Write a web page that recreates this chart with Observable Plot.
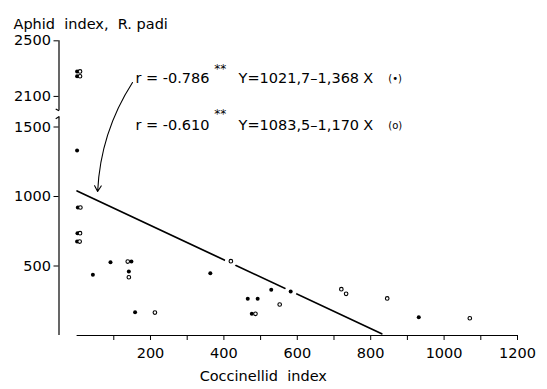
<!DOCTYPE html>
<html>
<head>
<meta charset="utf-8">
<script src="https://cdn.jsdelivr.net/npm/d3@7"></script>
<script src="https://cdn.jsdelivr.net/npm/@observablehq/plot@0.6"></script>
<style>
  html, body { margin: 0; padding: 0; background: #fff; }
  svg text { white-space: pre; }
</style>
</head>
<body>
<div id="chart"></div>
<script>
// ---- data ----
const pointX = [0, 8, 0, 8, 0, 2, 9, 1, 8, 0, 7, 43, 91, 138, 148, 141, 141, 158, 212, 363, 419, 465, 492, 476, 486, 529, 552, 582, 720, 733, 845, 931, 1070];
const pointY = [2280, 2280, 2245, 2245, 1331, 921, 921, 736, 736, 676, 676, 437, 527, 532, 532, 460, 419, 167, 165, 448, 535, 264, 264, 156, 156, 329, 223, 317, 333, 300, 267, 132, 124];
const pointKind = ["f","o","f","o","f","f","o","f","o","f","o","f","f","o","f","f","o","f","o","f","o","f","f","f","o","f","o","f","o","o","o","f","o"];

const lineX = [0, 830];
const lineY = [1040, 12];

const xTicks = [100, 200, 300, 400, 500, 600, 700, 800, 900, 1000, 1100, 1200];
const yTicks = [500, 1000, 1500, 2100, 2500];

const rTexts = ["r = -0.786", "r = -0.610"];
const eqTexts = ["Y=1021,7\u20131,368", "Y=1083,5\u20131,170"];
const symTexts = ["(\u2022)", "(o)"];
const titleText = "Aphid  index,  R. padi";
const xLabelText = "Coccinellid  index";

// ---- broken y axis: values above the break are shifted down ----
const BREAK = 1950, SHIFT = 380;
const brk = v => v >= BREAK ? v - SHIFT : v;
const unbrk = v => v >= BREAK - SHIFT ? v + SHIFT : v;

const points = pointX.map((x, i) => ({x, y: brk(pointY[i]), kind: pointKind[i]}));
const regLine = lineX.map((x, i) => ({x, y: brk(lineY[i])}));

const axisX0 = -49.3; // position of the vertical axis line, in x units
const font = "DejaVu Sans";

const chart = Plot.plot({
  width: 547,
  height: 389,
  marginLeft: 58.5,
  marginRight: 30,
  marginTop: 0,
  marginBottom: 54,
  style: {fontFamily: font, fontSize: "14px", background: "white", color: "black", overflow: "visible"},
  x: {domain: [axisX0, 1200], axis: null},
  y: {domain: [0, 1500], range: [335, 126.5], axis: null},
  marks: [
    // axes lines
    Plot.ruleY([0], {x1: 0, x2: 1200, stroke: "black", strokeWidth: 1.2}),
    Plot.ruleX([axisX0], {y1: 0, y2: brk(1574), stroke: "black", strokeWidth: 1.2}),
    Plot.ruleX([axisX0], {y1: brk(1997), y2: brk(2500), stroke: "black", strokeWidth: 1.2}),
    Plot.link([0], {x1: axisX0, y1: brk(1574), x2: axisX0 - 9, y2: brk(1560), stroke: "black", strokeWidth: 1.2}),
    Plot.link([0], {x1: axisX0, y1: brk(1997), x2: axisX0 - 9, y2: brk(2010), stroke: "black", strokeWidth: 1.2}),
    Plot.axisY(yTicks.map(brk), {anchor: "left", tickSize: 5, tickPadding: 3, label: null, fontSize: 14.5, tickFormat: d => String(Math.round(unbrk(d)))}),
    Plot.axisX({ticks: xTicks, anchor: "bottom", tickSize: 5, tickPadding: 7, label: null, fontSize: 14.5, tickFormat: d => d % 200 === 0 ? String(d) : ""}),
    // regression line
    Plot.line(regLine, {x: "x", y: "y", stroke: "black", strokeWidth: 1.7}),
    // white halos cut the line around points lying on it
    Plot.dot(points, {x: "x", y: "y", r: 6, fill: "white", stroke: "none"}),
    Plot.dot(points.filter(d => d.kind === "f"), {x: "x", y: "y", r: 2, fill: "black", stroke: "none"}),
    Plot.dot(points.filter(d => d.kind === "o"), {x: "x", y: "y", r: 1.8, fill: "white", stroke: "black", strokeWidth: 1.1}),
    // arrow from label to line
    Plot.arrow([0], {x1: 151, y1: brk(2200), x2: 56, y2: brk(1036), bend: -15, stroke: "black", strokeWidth: 1.1, headLength: 9}),
    // annotations
    Plot.text([rTexts[0]], {x: 159, y: brk(2227), textAnchor: "start", fontSize: 14.5}),
    Plot.text([rTexts[1]], {x: 159, y: brk(1509), textAnchor: "start", fontSize: 14.5}),
    Plot.text(["**"], {x: 374, y: brk(2299), textAnchor: "start", fontSize: 12, fill: "black"}),
    Plot.text(["**"], {x: 374, y: brk(1595), textAnchor: "start", fontSize: 12, fill: "black"}),
    Plot.text([eqTexts[0]], {x: 440, y: brk(2227), textAnchor: "start", fontSize: 14.5}),
    Plot.text([eqTexts[1]], {x: 440, y: brk(1509), textAnchor: "start", fontSize: 14.5}),
    Plot.text(["X"], {x: 780, y: brk(2227), textAnchor: "start", fontSize: 14.5}),
    Plot.text(["X"], {x: 780, y: brk(1509), textAnchor: "start", fontSize: 14.5}),
    Plot.text([symTexts[0]], {x: 848, y: brk(2227), textAnchor: "start", fontSize: 10}),
    Plot.text([symTexts[1]], {x: 848, y: brk(1509), textAnchor: "start", fontSize: 10}),
    // titles
    Plot.text([titleText], {frameAnchor: "top-left", dx: -45.5, dy: 18, textAnchor: "start", fontSize: 14.5}),
    Plot.text([xLabelText], {frameAnchor: "bottom", dx: -25, dy: 45, fontSize: 14.5})
  ]
});
document.getElementById("chart").appendChild(chart);
</script>
</body>
</html>
